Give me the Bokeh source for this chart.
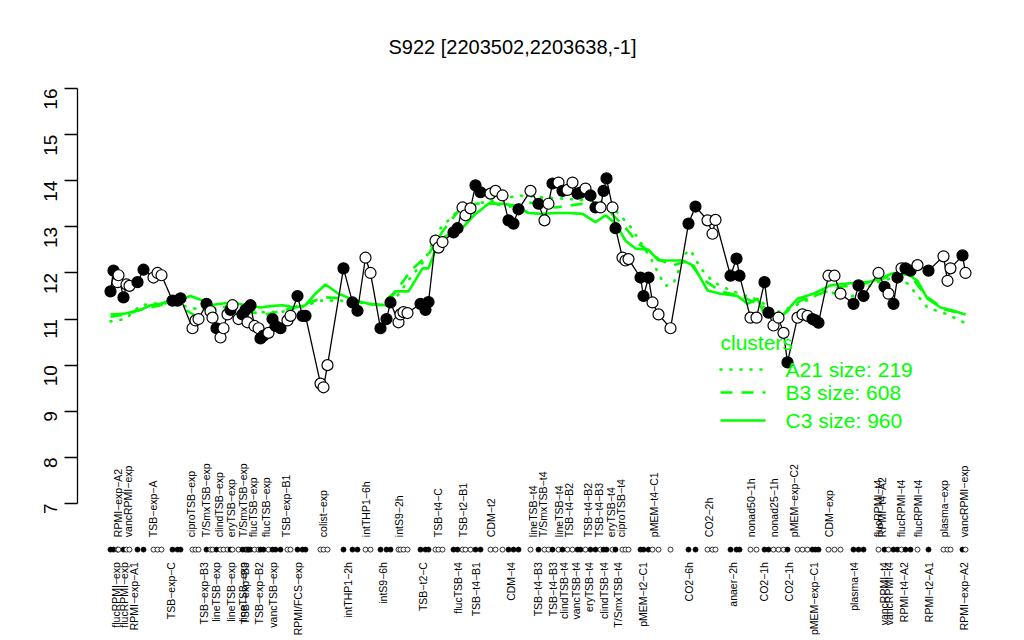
import math
from bokeh.plotting import figure
from bokeh.models import ColumnDataSource, FixedTicker
from bokeh.core.properties import value
from bokeh.embed import file_html
from bokeh.resources import INLINE

# ---------------- data ----------------
pos = [0.0,0.6,1.4,1.6,2.6,3.2,3.8,5.4,6.6,8.6,
       9.4,10.2,12.4,13.4,14.0,16.4,17.0,17.6,19.2,20.0,
       20.4,21.2,22.0,22.6,23.4,24.0,24.4,25.6,26.4,27.0,
       27.4,27.6,28.0,28.8,29.6,30.0,30.6,31.6,32.4,33.0,
       34.0,35.4,36.0,37.4,38.4,39.0,42.0,42.6,43.4,46.6,
       48.4,49.4,51.0,52.0,54.0,55.2,56.0,57.6,58.0,58.6,
       59.4,62.0,63.0,63.6,65.0,65.6,66.4,68.6,69.4,70.4,
       71.0,72.0,73.0,74.0,76.0,77.0,78.4,79.6,80.6,81.6,
       84.0,85.6,86.8,87.6,88.4,89.6,90.4,91.4,92.4,93.4,
       94.0,95.0,96.0,97.0,98.0,98.6,99.2,100.4,101.0,102.4,
       103.0,103.6,106.0,106.6,107.6,108.4,109.6,112.0,115.6,117.0,
       119.4,120.4,121.0,124.0,125.2,125.8,128.0,129.2,130.8,131.6,
       132.6,133.6,134.6,135.4,137.4,138.4,139.4,140.4,141.0,141.6,
       143.6,144.8,146.0,148.6,149.6,150.6,153.6,154.8,155.6,156.6,
       157.4,158.2,159.0,160.0,161.4,163.6,166.6,167.4,168.0,170.4,
       171.0]
expr = [11.6,12.05,11.8,11.95,11.47,11.75,11.72,11.8,12.07,11.9,
        12.0,11.95,11.4,11.4,11.45,10.8,10.97,11.0,11.33,11.17,
        11.03,10.8,10.6,10.8,11.1,11.2,11.3,11.0,11.1,11.2,
        10.93,11.25,11.3,10.85,10.8,10.58,10.64,10.7,11.0,10.85,
        10.8,10.97,11.07,11.5,11.07,11.07,9.6,9.52,10.0,12.1,
        11.36,11.18,12.33,12.0,10.8,11.0,11.36,10.93,11.1,11.15,
        11.13,11.33,11.2,11.37,12.7,12.55,12.67,12.88,12.97,13.42,
        13.25,13.4,13.9,13.75,13.72,13.78,13.68,13.14,13.07,13.38,
        13.78,13.5,13.14,13.5,13.94,13.96,13.78,13.8,13.96,13.72,
        13.74,13.83,13.68,13.42,13.42,13.78,14.05,13.42,12.97,12.33,
        12.27,12.3,11.9,11.5,11.9,11.36,11.1,10.8,13.07,13.44,
        13.14,12.85,13.15,11.94,12.31,11.94,11.03,11.03,11.8,11.14,
        10.86,11.03,10.7,10.06,11.03,11.1,11.07,11.0,10.97,10.92,
        11.94,11.94,11.55,11.33,11.73,11.5,12.0,11.7,11.55,11.33,
        11.9,12.1,12.1,12.05,12.17,12.05,12.36,11.83,12.1,12.38,
        12.0]
filled = [1,1,0,0,1,0,0,1,1,0,
          0,0,1,1,1,0,0,0,1,0,
          0,1,0,0,0,1,0,0,1,1,
          0,1,1,0,0,1,1,0,1,1,
          1,0,0,1,1,1,0,0,0,1,
          1,1,0,0,1,1,1,0,0,0,
          0,1,1,1,0,0,0,1,1,0,
          0,0,1,1,0,0,0,1,1,1,
          0,1,0,0,1,0,1,0,0,1,
          1,0,1,1,0,1,1,0,1,0,
          0,0,1,1,1,0,0,0,1,1,
          0,0,0,1,1,1,0,0,1,1,
          0,0,0,1,0,0,0,1,1,1,
          0,0,0,1,1,1,0,1,0,1,
          1,0,1,1,0,1,0,0,0,1,
          0]

c3_pos = [0,3,6,8,10,12,14,16,18,20,22,24.4,27,30,32,34.4,37,39,41,43,
          45.6,49,51.6,55,57,59.6,62.4,63.6,65,67,70.4,73,75.6,78.4,81,83.6,86.4,89,91.6,94.4,
          97,99,101,103,105,107.6,109.6,111.6,114.4,116.6,119.4,122,125.4,127.4,129.4,130.6,134,137.4,140.6,144,
          147.4,151.4,154,156.6,159.4,161.4,163.4,166,168.6,171]
c3_val = [11.1,11.12,11.2,11.3,11.33,11.4,11.42,11.5,11.42,11.3,11.33,11.36,11.3,11.25,11.28,11.3,11.25,11.3,11.55,11.75,
          11.55,11.4,11.33,11.3,11.6,11.6,12.1,12.1,12.5,12.8,12.98,13.28,13.5,13.5,13.46,13.3,13.28,13.3,13.3,13.28,
          13.1,13.25,13.07,12.7,12.53,12.5,12.27,12.27,12.27,12.16,11.62,11.55,11.5,11.33,11.44,11.14,11.03,11.44,11.55,11.73,
          11.77,11.8,11.88,12.0,11.98,11.83,11.44,11.25,11.18,11.1]
b3_pos = [0,3,6,10,13,15,17,20,24,28,31,35,38,43,46,50,54,57,58.4,60,
          63.6,66.4,69.6,73,76.4,79,83.6,89,94.4,99.6,103,105.6,107,109.6,112.4,115.6,118,122,126,130,
          134,138,142,146,150,154,157,160,163,167,171]
b3_val = [11.05,11.1,11.2,11.3,11.45,11.2,11.07,11.2,11.3,11.15,11.1,11.2,11.3,11.47,11.45,11.35,11.3,11.6,11.8,12.05,
          12.4,12.9,13.35,13.5,13.53,13.42,13.53,13.42,13.5,13.35,12.98,12.63,12.53,12.3,12.16,12.27,11.9,11.6,11.5,11.3,
          11.05,11.4,11.55,11.7,11.75,11.85,12.0,11.95,11.5,11.2,11.1]
a21_pos = [0,3,6,10,14,18,22,26,30,34,38,42,46,50,54,57,60,63,65.4,69,
           73,78,81.6,86.4,92,99.6,104,108,110,111,112.6,115,116,118,120.6,124,128,130,132.6,136,
           140,142.6,148,152.6,156.6,159.4,163.4,167.4,170.6]
a21_val = [10.95,11.0,11.3,11.35,11.3,11.2,11.25,11.3,11.15,11.15,11.25,11.4,11.4,11.35,11.3,11.45,11.9,12.3,12.9,13.3,
           13.5,13.6,13.68,13.64,13.6,13.53,13.0,12.33,11.9,11.72,11.77,12.42,12.5,12.1,11.8,11.62,11.47,11.4,11.12,11.25,
           11.44,11.62,11.47,11.77,11.9,11.77,11.25,11.1,10.93]

top_labels = ["RPMI\u2212exp\u2212A2","vancRPMI\u2212exp","TSB\u2212exp\u2212A","ciproTSB\u2212exp","T/SmxTSB\u2212exp",
              "clindTSB\u2212exp","eryTSB\u2212exp","T/SmxTSB\u2212exp","flucTSB\u2212exp","flucTSB\u2212exp",
              "TSB\u2212exp\u2212B1","colist\u2212exp","intTHP1\u22126h","intS9\u22122h","TSB\u2212t4\u2212C",
              "TSB\u2212t2\u2212B1","CDM\u2212t2","lineTSB\u2212t4","T/SmxTSB\u2212t4","lineTSB\u2212t4",
              "TSB\u2212t4\u2212B2","TSB\u2212t4\u2212B2","TSB\u2212t4\u2212B3","eryTSB\u2212t4","ciproTSB\u2212t4",
              "pMEM\u2212t4\u2212C1","CO2\u22122h","nonad50\u22121h","nonad25\u22121h","pMEM\u2212exp\u2212C2",
              "CDM\u2212exp","flucRPMI\u2212t4","RPMI\u2212t4\u2212A2","flucRPMI\u2212t4","flucRPMI\u2212t4",
              "plasma\u2212exp","vancRPMI\u2212exp"]
top_pos = [1.4,3.4,8.4,16.0,19.0,21.6,24.0,26.4,28.4,31.0,35.0,42.4,51.0,57.6,65.4,70.4,76.0,84.4,86.4,89.6,
           91.6,95.4,97.6,100.0,102.0,108.6,119.6,128.0,132.6,136.6,143.6,153.4,154.2,158.0,161.4,166.6,170.6]
bot_labels = ["flucRPMI\u2212exp","flucRPMI\u2212exp","RPMI\u2212exp\u2212A1","TSB\u2212exp\u2212C","TSB\u2212exp\u2212B3",
              "lineTSB\u2212exp","lineTSB\u2212exp","TSB\u2212exp\u2212B3","lineTSB\u2212exp","TSB\u2212exp\u2212B2",
              "vancTSB\u2212exp","RPMI/FCS\u2212exp","intTHP1\u22122h","intS9\u22126h","TSB\u2212t2\u2212C",
              "flucTSB\u2212t4","TSB\u2212t4\u2212B1","CDM\u2212t4","TSB\u2212t4\u2212B3","TSB\u2212t4\u2212B3",
              "clindTSB\u2212t4","vancTSB\u2212t4","eryTSB\u2212t4","clindTSB\u2212t4","T/SmxTSB\u2212t4",
              "pMEM\u2212t2\u2212C1","CO2\u22126h","anaer\u22122h","CO2\u22121h","CO2\u22121h",
              "pMEM\u2212exp\u2212C1","plasma\u2212t4","vancRPMI\u2212t4","vancRPMI\u2212t4","RPMI\u2212t4\u2212A2",
              "RPMI\u2212t2\u2212A1","RPMI\u2212exp\u2212A2"]
bot_pos = [1.0,2.6,4.6,12.0,18.6,21.0,24.0,26.8,26.4,29.6,32.4,37.4,47.4,54.4,62.4,69.4,73.0,80.0,85.4,88.4,
           90.6,93.0,95.6,98.6,101.4,106.4,115.6,124.4,130.6,135.6,140.6,148.6,154.6,155.6,158.6,163.6,170.6]

cluster_names = ["A21 size: 219", "B3 size: 608", "C3 size: 960"]
y_ticks = [7, 8, 9, 10, 11, 12, 13, 14, 15, 16]
title_text = "S922 [2203502,2203638,-1]"

# ---------------- figure ----------------
GREEN = "#00FF00"
FONT = "Liberation Sans"
X0, X1 = -6.6, 177.6
Y0, Y1 = 4.0286, 17.4747

p = figure(width=1008, height=640, x_range=(X0, X1), y_range=(Y0, Y1),
           output_backend="svg", toolbar_location=None, x_axis_location=None,
           min_border_left=77, min_border_right=10, min_border_top=20, min_border_bottom=0)
p.outline_line_color = None
p.grid.visible = False
p.background_fill_color = "white"

ax = p.yaxis[0]
ax.ticker = FixedTicker(ticks=y_ticks)
ax.bounds = (7, 16)
ax.axis_line_width = 1.3
ax.major_tick_line_width = 1.3
ax.major_tick_out = 13
ax.major_tick_in = 0
ax.minor_tick_out = 0
ax.minor_tick_in = 0
ax.major_label_orientation = math.pi / 2
ax.major_label_standoff = 14
ax.major_label_text_font = FONT
ax.major_label_text_font_size = "19px"
ax.major_label_text_color = "black"

# cluster profiles
p.line(a21_pos, a21_val, line_color=GREEN, line_width=2.6, line_dash="1 9", line_cap="round")
p.line(b3_pos, b3_val, line_color=GREEN, line_width=2.6, line_dash="12 9")
p.line(c3_pos, c3_val, line_color=GREEN, line_width=2.6)

# gene profile
src = ColumnDataSource(dict(x=pos, y=expr,
                            fc=["black" if f else "white" for f in filled],
                            strip=[6.0] * len(pos)))
p.line("x", "y", source=src, line_color="black", line_width=1.3)
p.scatter("x", "y", source=src, size=11, fill_color="fc", line_color="black", line_width=1.2)
p.scatter("x", "strip", source=src, size=5, fill_color="fc", line_color="black", line_width=0.8)

# sample labels
p.text(top_pos, [6.27] * len(top_pos), text=top_labels, angle=math.pi / 2,
       text_align="left", text_baseline="middle", text_font=value(FONT),
       text_font_size="10.5px", text_color="black")
p.text(bot_pos, [5.73] * len(bot_pos), text=bot_labels, angle=math.pi / 2,
       text_align="right", text_baseline="middle", text_font=value(FONT),
       text_font_size="10.5px", text_color="black")

# title
p.text([80.4], [16.89], text=[title_text], text_align="center", text_baseline="middle",
       text_font=value(FONT), text_font_size="20px", text_color="black")

# legend (drawn like R's legend, no box)
p.text([122.0], [10.49], text=["clusters"], text_align="left", text_baseline="middle",
       text_font=value(FONT), text_font_size="21px", text_color=GREEN)
leg_y = [9.906, 9.407, 8.80]
dashes = ["1 9", "12 9", "solid"]
for yy, dsh, nm in zip(leg_y, dashes, cluster_names):
    p.line([122.0, 131.0], [yy, yy], line_color=GREEN, line_width=2.6, line_dash=dsh,
           line_cap="round" if dsh == "1 9" else "butt")
    p.text([135.0], [yy], text=[nm], text_align="left", text_baseline="middle",
           text_font=value(FONT), text_font_size="21px", text_color=GREEN)

open("out.html", "w").write(file_html(p, INLINE))
